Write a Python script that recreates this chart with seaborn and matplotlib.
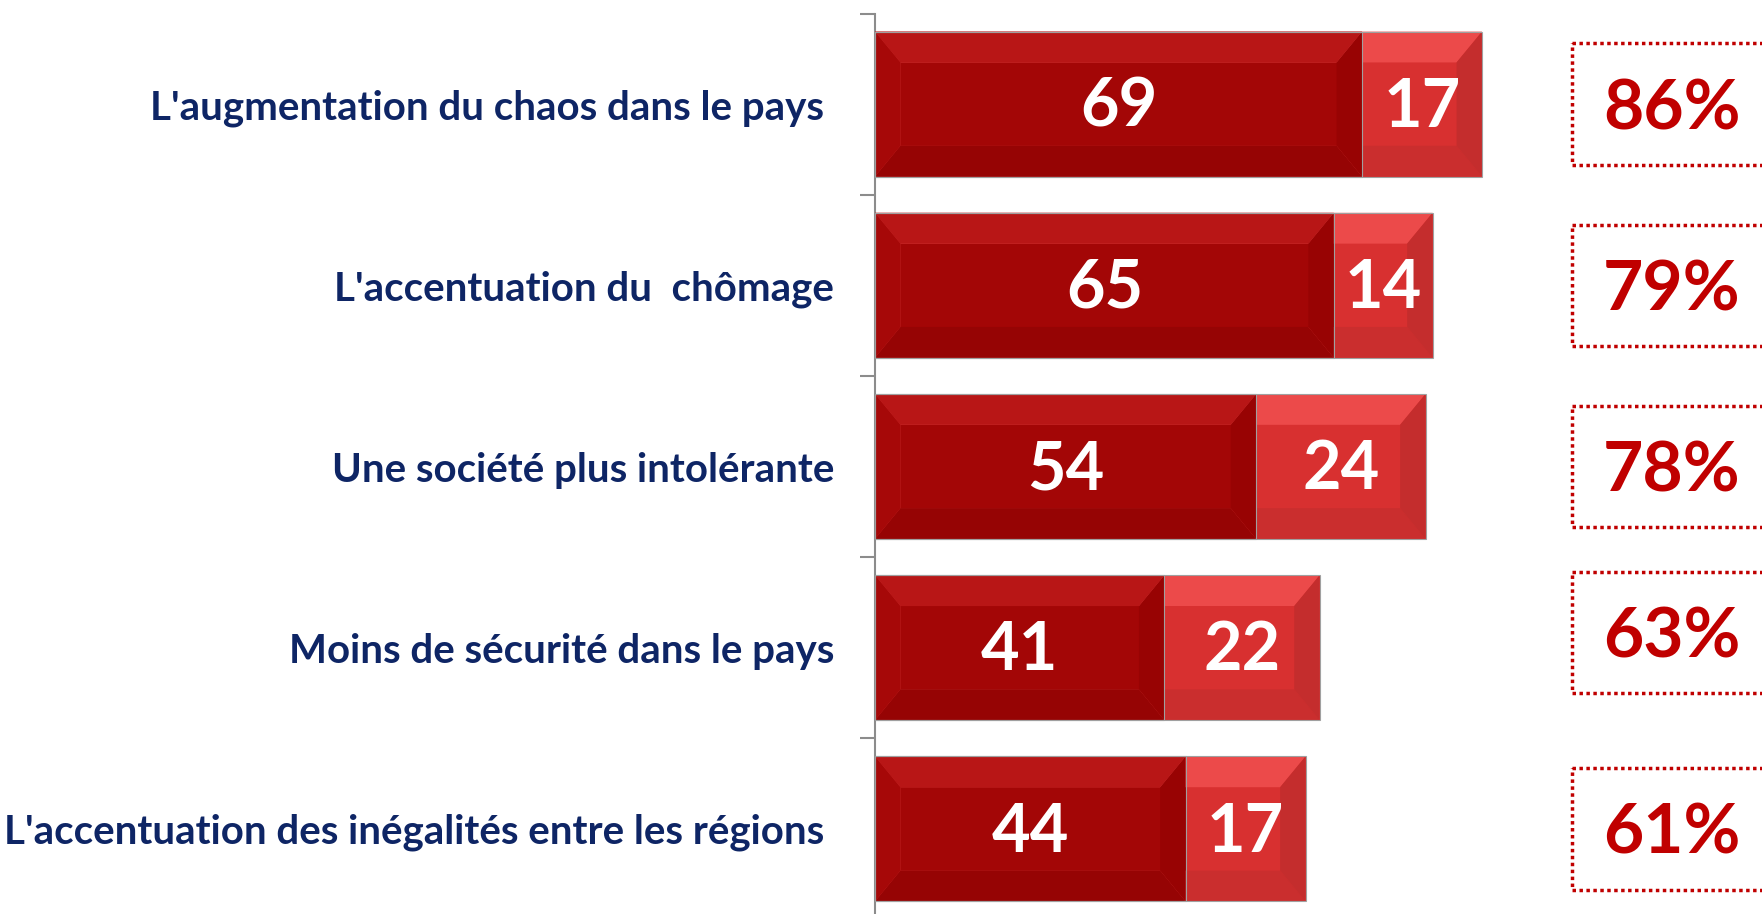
import pandas as pd
import matplotlib.pyplot as plt
import seaborn as sns
import numpy as np
from matplotlib.patches import Polygon, Rectangle

# Données
categories = [
    "L'augmentation du chaos dans le pays ",
    "L'accentuation du  chômage",
    "Une société plus intolérante",
    "Moins de sécurité dans le pays",
    "L'accentuation des inégalités entre les régions ",
]
tout_a_fait = [69, 65, 54, 41, 44]
plutot = [17, 14, 24, 22, 17]
total_pct = [86, 79, 78, 63, 61]

colors = {
    'dark': '#A30606',
    'light': '#D83030',
    'navy': '#0E2565',
    'pct': '#C00000',
    'axis': '#8C8C8C',
}

# décalage vertical des cadres (le 4e est un peu plus haut dans l'original)
box_shift = [0, 0, 0, -0.085, 0]

sns.set_theme(style='white')
plt.rcParams['font.family'] = ['Lato', 'DejaVu Sans']

df = pd.DataFrame({'cat': categories, 'a': tout_a_fait, 'b': plutot})
df['tot'] = df['a'] + df['b']

fig = plt.figure(figsize=(17.62, 9.14), dpi=100)
fig.patch.set_facecolor('white')
ax = fig.add_axes([875 / 1762, -5.5 / 914, 1 - 875 / 1762, 906 / 914])

sns.barplot(data=df, x='tot', y='cat', color=colors['light'], orient='h',
            width=0.8, saturation=1, ax=ax, linewidth=0)
n_light = len(ax.patches)
sns.barplot(data=df, x='a', y='cat', color=colors['dark'], orient='h',
            width=0.8, saturation=1, ax=ax, linewidth=0)
light_bars = ax.patches[:n_light]
dark_bars = ax.patches[n_light:]


def bevel(bar, top, bottom, side_l, side_r, dx=3.6, dy=0.17):
    x0, y0 = bar.get_x(), bar.get_y()
    w, h = bar.get_width(), bar.get_height()
    x1, y1 = x0 + w, y0 + h
    # axe y inversé : y0 = bord supérieur
    polys = [
        ([(x0, y0), (x1, y0), (x1 - dx, y0 + dy), (x0 + dx, y0 + dy)], top),
        ([(x0, y1), (x1, y1), (x1 - dx, y1 - dy), (x0 + dx, y1 - dy)], bottom),
        ([(x0, y0), (x0 + dx, y0 + dy), (x0 + dx, y1 - dy), (x0, y1)], side_l),
        ([(x1, y0), (x1 - dx, y0 + dy), (x1 - dx, y1 - dy), (x1, y1)], side_r),
    ]
    for pts, c in polys:
        ax.add_patch(Polygon(pts, closed=True, facecolor=c, edgecolor='none', zorder=3))
    ax.add_patch(Rectangle((x0, y0), w, h, fill=False, edgecolor='#A0A0A0',
                           linewidth=0.8, zorder=4))


for bar in light_bars:
    bevel(bar, '#EC4A4A', '#CA2E2E', '#D63535', '#C42D2D')
for bar in dark_bars:
    bevel(bar, '#B81616', '#960404', '#A60808', '#980303')

# Valeurs dans les barres
for i, (a, b) in enumerate(zip(tout_a_fait, plutot)):
    ax.text(a / 2, i + 0.02, f'{a}', ha='center', va='center', color='white',
            fontsize=48, fontweight='bold', zorder=5)
    ax.text(a + b / 2, i + 0.02, f'{b}', ha='center', va='center', color='white',
            fontsize=48, fontweight='bold', zorder=5)

# Totaux dans les cadres pointillés
for i, (p, s) in enumerate(zip(total_pct, box_shift)):
    ax.add_patch(Rectangle((98.7, i + s - 0.335), 40, 0.67, fill=False,
                           edgecolor=colors['pct'], linewidth=2.5,
                           linestyle=(0, (1, 1)), zorder=2))
    ax.text(112.9, i + s + 0.03, f'{p}%', ha='center', va='center', color=colors['pct'],
            fontsize=50, fontweight='bold', zorder=5)

ax.set_xlim(0, 886 / 7.05)
ax.set_ylim(4.5, -0.5)
ax.set_xlabel('')
ax.set_ylabel('')
ax.xaxis.set_visible(False)
for s in ['top', 'right', 'bottom']:
    ax.spines[s].set_visible(False)
ax.spines['left'].set_color(colors['axis'])
ax.spines['left'].set_linewidth(1.5)

ax.set_yticks(range(len(categories)))
ax.set_yticklabels(categories, fontsize=29, fontweight='bold', color=colors['navy'])
ax.tick_params(axis='y', which='major', length=0, pad=29.5)
ax.set_yticks(np.arange(-0.5, len(categories), 1), minor=True)
ax.tick_params(axis='y', which='minor', length=11, width=1.5, color=colors['axis'],
               left=True)

plt.savefig('out.png', dpi=100, facecolor='white')
plt.close()
